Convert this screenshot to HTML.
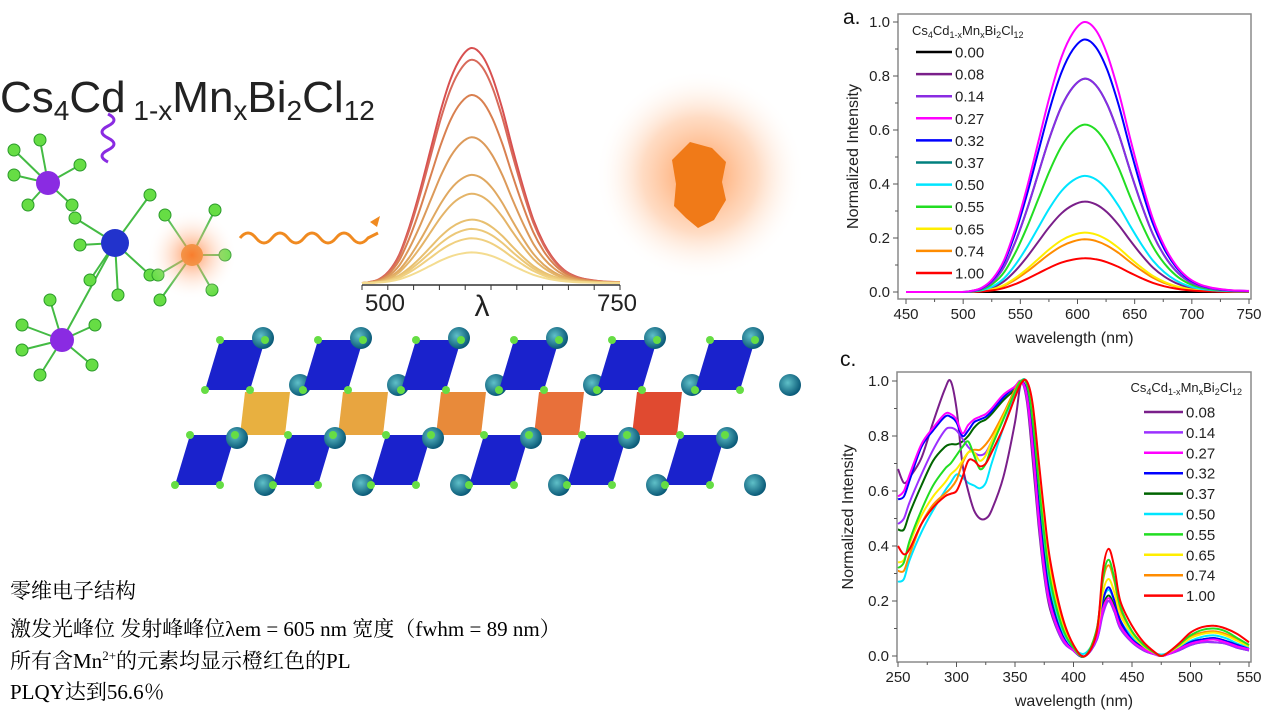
<!DOCTYPE html>
<html><head><meta charset="utf-8">
<style>
html,body{margin:0;padding:0;background:#fff;}
svg{display:block;font-family:"Liberation Sans",sans-serif;}
.cn{font-family:"Liberation Serif","Noto Serif CJK SC",serif;font-size:21px;fill:#000;}
</style></head>
<body>
<svg id="root" width="1270" height="713" viewBox="0 0 1270 713" xmlns="http://www.w3.org/2000/svg">
<defs>
<radialGradient id="glow" cx="50%" cy="50%" r="50%">
<stop offset="0" stop-color="#ff7a20" stop-opacity="0.75"/>
<stop offset="0.55" stop-color="#ff9a55" stop-opacity="0.35"/>
<stop offset="1" stop-color="#ffffff" stop-opacity="0"/>
</radialGradient>
<radialGradient id="glow2" cx="50%" cy="50%" r="50%">
<stop offset="0" stop-color="#ff7a30" stop-opacity="0.8"/>
<stop offset="1" stop-color="#ffffff" stop-opacity="0"/>
</radialGradient>
<radialGradient id="ball" cx="40%" cy="40%" r="60%">
<stop offset="0" stop-color="#5fc0c8"/><stop offset="1" stop-color="#0a5a78"/>
</radialGradient>
</defs>

<!-- Left graphic -->
<g>
<text x="0" y="112" font-size="44" fill="#222">Cs<tspan font-size="28" dy="8">4</tspan><tspan dy="-8">Cd</tspan><tspan font-size="28" dy="8"> 1-x</tspan><tspan dy="-8">Mn</tspan><tspan font-size="28" dy="8">x</tspan><tspan dy="-8">Bi</tspan><tspan font-size="28" dy="8">2</tspan><tspan dy="-8">Cl</tspan><tspan font-size="28" dy="8">12</tspan></text>
</g>
<g id="molecule"></g>
<circle cx="192" cy="255" r="45" fill="url(#glow2)"/>
<path d="M240 238 q8 -10 16 0 t16 0 t16 0 t16 0 t16 0 t16 0 t16 0 t16 0 l10 -5" fill="none" stroke="#f08a20" stroke-width="3"/>
<path d="M370 222 l10 -6 l-3 11" fill="#f08a20"/>
<path d="M108 162 q-12 -6 0 -12 q12 -6 0 -12 q-12 -6 0 -12 q12 -6 0 -12" fill="none" stroke="#8a2be2" stroke-width="3"/>
<g id="mini"></g>
<circle cx="700" cy="175" r="105" fill="url(#glow)"/>
<path d="M672 160 l18 -18 l22 6 l14 14 l-4 20 l4 18 l-12 20 l-16 8 l-12 -10 l-12 -12 l2 -22 z" fill="#f07a18"/>
<g id="crystal"></g>

<g>
<text class="cn" x="10" y="598">零维电子结构</text>
<text class="cn" x="10" y="636">激发光峰位 发射峰峰位λem = 605 nm  宽度（fwhm = 89 nm）</text>
<text class="cn" x="10" y="668">所有含Mn<tspan font-size="13" dy="-8">2+</tspan><tspan dy="8">的元素均显示橙红色的PL</tspan></text>
<text class="cn" x="10" y="699">PLQY达到56.6％</text>
</g>

<g id="chartA"></g>
<g id="chartC"></g>
</svg>
<script>
// ---------- Chart a data ----------
const aWavelengths=[450,496,506,516,526,536,546,556,566,576,586,596,606,616,626,636,646,656,666,676,686,696,706,716,726,736,750];
const aProfile=[0,0,0.003,0.015,0.05,0.12,0.24,0.39,0.56,0.73,0.87,0.96,1.0,0.97,0.88,0.74,0.57,0.41,0.27,0.17,0.1,0.055,0.03,0.017,0.01,0.006,0.004];
const aLabels=["0.00","0.08","0.14","0.27","0.32","0.37","0.50","0.55","0.65","0.74","1.00"];
const aPeaks=[0,0.335,0.79,1.0,0.935,0.79,0.43,0.62,0.22,0.195,0.125];
const aColors=["#000000","#7a1f8a","#8a2be2","#ff00ff","#0000ff","#00807f","#00e5ff","#22dd22","#ffee00","#ff8c00","#ff0000"];
const aXTicks=[450,500,550,600,650,700,750];
const aYTicks=[0,0.2,0.4,0.6,0.8,1.0];

// ---------- Chart c data ----------
const cWavelengths=[250,255,260,270,280,290,295,300,305,310,315,320,325,330,340,350,355,360,365,370,375,380,390,400,410,420,425,430,435,440,450,460,470,475,480,490,500,510,520,530,540,550];
const cLabels=["0.08","0.14","0.27","0.32","0.37","0.50","0.55","0.65","0.74","1.00"];
const cColors=["#7a1f8a","#9b30ff","#ff00ff","#0000ff","#006400","#00e5ff","#22dd22","#ffee00","#ff8c00","#ff0000"];
const c008=[0.68,0.63,0.65,0.72,0.85,0.97,1.0,0.9,0.7,0.6,0.53,0.5,0.5,0.53,0.65,0.85,0.99,0.93,0.72,0.48,0.29,0.17,0.06,0.02,0.0,0.06,0.16,0.20,0.16,0.10,0.05,0.02,0.005,0,0.005,0.02,0.04,0.05,0.05,0.045,0.03,0.02];
const c014=[0.48,0.5,0.56,0.66,0.75,0.82,0.83,0.82,0.79,0.76,0.74,0.73,0.74,0.78,0.87,0.96,1.0,0.94,0.75,0.5,0.3,0.18,0.06,0.02,0.0,0.06,0.15,0.20,0.16,0.1,0.05,0.02,0.005,0,0.005,0.02,0.04,0.05,0.05,0.045,0.03,0.02];
const c027=[0.58,0.6,0.66,0.77,0.83,0.88,0.88,0.86,0.81,0.84,0.86,0.87,0.88,0.9,0.95,0.98,1.0,0.95,0.77,0.52,0.32,0.19,0.07,0.02,0.0,0.07,0.17,0.21,0.17,0.11,0.055,0.025,0.005,0,0.005,0.025,0.045,0.055,0.06,0.05,0.035,0.025];
const c032=[0.57,0.58,0.64,0.76,0.82,0.87,0.87,0.85,0.8,0.82,0.85,0.86,0.87,0.89,0.94,0.98,1.0,0.96,0.79,0.55,0.35,0.21,0.08,0.02,0.0,0.08,0.2,0.25,0.2,0.13,0.06,0.03,0.007,0,0.007,0.025,0.05,0.06,0.065,0.055,0.04,0.025];
const c037=[0.46,0.46,0.52,0.62,0.71,0.76,0.77,0.77,0.78,0.8,0.83,0.85,0.86,0.88,0.93,0.97,1.0,0.96,0.8,0.56,0.36,0.22,0.08,0.02,0.0,0.08,0.18,0.22,0.18,0.12,0.06,0.03,0.007,0,0.007,0.025,0.05,0.06,0.065,0.055,0.04,0.025];
const c050=[0.27,0.28,0.35,0.45,0.53,0.6,0.63,0.66,0.65,0.63,0.62,0.61,0.63,0.7,0.83,0.95,1.0,0.99,0.84,0.6,0.4,0.25,0.1,0.03,0.01,0.08,0.2,0.24,0.2,0.13,0.07,0.03,0.01,0.005,0.01,0.03,0.055,0.07,0.075,0.065,0.045,0.03];
const c055=[0.32,0.34,0.42,0.53,0.62,0.68,0.7,0.73,0.76,0.78,0.73,0.68,0.7,0.76,0.86,0.96,1.0,0.99,0.86,0.64,0.44,0.28,0.11,0.03,0.0,0.1,0.28,0.35,0.28,0.18,0.09,0.04,0.01,0,0.01,0.04,0.075,0.095,0.1,0.09,0.065,0.04];
const c065=[0.34,0.35,0.41,0.51,0.58,0.63,0.66,0.68,0.71,0.74,0.74,0.71,0.73,0.78,0.87,0.96,1.0,0.99,0.87,0.66,0.46,0.3,0.12,0.03,0.0,0.09,0.23,0.28,0.23,0.15,0.08,0.035,0.01,0,0.01,0.035,0.065,0.08,0.085,0.075,0.055,0.035];
const c074=[0.31,0.31,0.37,0.48,0.55,0.59,0.61,0.64,0.7,0.74,0.75,0.75,0.77,0.8,0.88,0.97,1.0,0.99,0.89,0.68,0.48,0.32,0.13,0.035,0.0,0.1,0.27,0.33,0.27,0.17,0.09,0.04,0.01,0,0.01,0.04,0.07,0.085,0.09,0.08,0.06,0.04];
const c100=[0.4,0.37,0.39,0.48,0.54,0.58,0.59,0.6,0.65,0.71,0.71,0.69,0.7,0.74,0.83,0.94,0.99,1.0,0.92,0.72,0.52,0.35,0.15,0.04,0.0,0.09,0.31,0.39,0.32,0.2,0.11,0.05,0.012,0,0.01,0.045,0.085,0.105,0.11,0.1,0.08,0.05];
const cSeries=[c008,c014,c027,c032,c037,c050,c055,c065,c074,c100];
const cXTicks=[250,300,350,400,450,500,550];
const cYTicks=[0,0.2,0.4,0.6,0.8,1.0];

// ---------- Mini chart data ----------
const miniPeaks=[1.0,0.95,0.8,0.62,0.46,0.38,0.27,0.23,0.19,0.13];
const miniColors=["#d85050","#d86a5a","#d98050","#dc9a5a","#e0a860","#e4b468","#e8c070","#ecc878","#f0d080","#f4dc90"];

const NS="http://www.w3.org/2000/svg";
function mk(tag,attrs,parent){const e=document.createElementNS(NS,tag);for(const k in attrs)e.setAttribute(k,attrs[k]);if(parent)parent.appendChild(e);return e;}
function smooth(pts){let d="M"+pts[0][0].toFixed(1)+","+pts[0][1].toFixed(1);for(let i=0;i<pts.length-1;i++){const p0=pts[i-1]||pts[i],p1=pts[i],p2=pts[i+1],p3=pts[i+2]||p2;const c1=[p1[0]+(p2[0]-p0[0])/6,p1[1]+(p2[1]-p0[1])/6],c2=[p2[0]-(p3[0]-p1[0])/6,p2[1]-(p3[1]-p1[1])/6];d+="C"+c1[0].toFixed(1)+","+c1[1].toFixed(1)+" "+c2[0].toFixed(1)+","+c2[1].toFixed(1)+" "+p2[0].toFixed(1)+","+p2[1].toFixed(1);}return d;}

function axes(g,o){
  const xS=v=>o.x0+(v-o.xmin)/(o.xmax-o.xmin)*(o.x1-o.x0);
  const yS=v=>o.y0-(v-0)/(1)*(o.y0-o.y1);
  let r=mk("rect",{x:o.fx0,y:o.fy0,width:o.fx1-o.fx0,height:o.fy1-o.fy0,fill:"none",stroke:"#8a8a8a","stroke-width":1.5},g);
  
  
  o.xt.forEach((v,i)=>{const x=xS(v);
    mk("line",{x1:x,x2:x,y1:o.fy1,y2:o.fy1+5,stroke:"#555"},g);
    if(i<o.xt.length-1){const xm=xS(v+(o.xt[1]-o.xt[0])/2);mk("line",{x1:xm,x2:xm,y1:o.fy1,y2:o.fy1+3,stroke:"#555"},g);}
    const t=mk("text",{x:x,y:o.fy1+20,"font-size":15,"text-anchor":"middle",fill:"#222"},g);t.textContent=v;
    
    });
  o.yt.forEach((v,i)=>{const y=yS(v);
    mk("line",{x1:o.fx0-5,x2:o.fx0,y1:y,y2:y,stroke:"#555"},g);
    if(i<o.yt.length-1){const ym=yS(v+0.1);mk("line",{x1:o.fx0-3,x2:o.fx0,y1:ym,y2:ym,stroke:"#555"},g);}
    const t=mk("text",{x:o.fx0-8,y:y+5,"font-size":15,"text-anchor":"end",fill:"#222"},g);t.textContent=v.toFixed(1);
    
    });
  const xt=mk("text",{x:(o.fx0+o.fx1)/2,y:o.fy1+44,"font-size":16,"text-anchor":"middle",fill:"#222"},g);xt.textContent="wavelength (nm)";
  
  
  const yt=mk("text",{x:0,y:0,"font-size":16,"text-anchor":"middle",fill:"#222",transform:`translate(${o.ylx},${(o.fy0+o.fy1)/2}) rotate(-90)`},g);yt.textContent="Normalized Intensity";
  
  
  return [xS,yS];
}
function legendTitle(g,x,y,anchor){
  const t=mk("text",{x:x,y:y,"font-size":13,fill:"#222","text-anchor":anchor||"start"},g);
  t.innerHTML='Cs<tspan font-size="9" dy="3">4</tspan><tspan dy="-3">Cd</tspan><tspan font-size="9" dy="3">1-x</tspan><tspan dy="-3">Mn</tspan><tspan font-size="9" dy="3">x</tspan><tspan dy="-3">Bi</tspan><tspan font-size="9" dy="3">2</tspan><tspan dy="-3">Cl</tspan><tspan font-size="9" dy="3">12</tspan>';
  
  
}

// Chart a
(function(){
  const g=document.getElementById("chartA");
  const o={x0:906,x1:1249,xmin:450,xmax:750,y0:292,y1:22,fx0:898,fx1:1251,fy0:14,fy1:299,xt:aXTicks,yt:aYTicks,ylx:858};
  const [xS,yS]=axes(g,o);
  const lab=mk("text",{x:843,y:24,"font-size":21,fill:"#111"},g);lab.textContent="a.";
  
  
  const order=[0,1,9,8,10,6,7,5,2,4,3];
  order.forEach(i=>{
    const pts=aWavelengths.map((w,j)=>[xS(w),yS(aPeaks[i]*aProfile[j])]);
    const p=mk("path",{d:smooth(pts),fill:"none",stroke:aColors[i],"stroke-width":2},g);
    
    
  });
  legendTitle(g,912,35);
  aLabels.forEach((l,i)=>{const y=52+i*22.1;
    const ln=mk("line",{x1:916,x2:952,y1:y,y2:y,stroke:aColors[i],"stroke-width":2.5},g);
    
    
    const t=mk("text",{x:955,y:y+5.5,"font-size":15,fill:"#222"},g);t.textContent=l;
    
    });
})();

// Chart c
(function(){
  const g=document.getElementById("chartC");
  const o={x0:898,x1:1249,xmin:250,xmax:550,y0:656,y1:381,fx0:897,fx1:1251,fy0:372,fy1:662,xt:cXTicks,yt:cYTicks,ylx:853};
  const [xS,yS]=axes(g,o);
  const lab=mk("text",{x:840,y:366,"font-size":21,fill:"#111"},g);lab.textContent="c.";
  
  
  const order=[5,4,0,1,3,2,8,7,6,9];
  order.forEach(i=>{
    const pts=cWavelengths.map((w,j)=>[xS(w),yS(cSeries[i][j])]);
    const p=mk("path",{d:smooth(pts),fill:"none",stroke:cColors[i],"stroke-width":2},g);
    
    
  });
  legendTitle(g,1242,392,"end");
  cLabels.forEach((l,i)=>{const y=412+i*20.4;
    const ln=mk("line",{x1:1144,x2:1183,y1:y,y2:y,stroke:cColors[i],"stroke-width":2.5},g);
    
    
    const t=mk("text",{x:1186,y:y+5.5,"font-size":15,fill:"#222"},g);t.textContent=l;
    
    });
})();

// Mini chart
(function(){
  const g=document.getElementById("mini");
  const xS=v=>362+(v-500)/250*258, yS=v=>283-v*235;
  miniPeaks.forEach((a,i)=>{
    const pts=aWavelengths.filter(w=>w>=496).map(w=>{const j=aWavelengths.indexOf(w);return [xS(Math.max(500,w)),yS(a*aProfile[j])];});
    const p=mk("path",{d:smooth(pts),fill:"none",stroke:miniColors[i],"stroke-width":2},g);
    
    
  });
  mk("line",{x1:362,x2:620,y1:285,y2:285,stroke:"#333","stroke-width":1.5},g);
  for(let v=500;v<=750;v+=25){mk("line",{x1:xS(v),x2:xS(v),y1:285,y2:290,stroke:"#333"},g);}
  [["500",385],["λ",482],["750",617]].forEach(([s,x])=>{const t=mk("text",{x:x,y:s==="λ"?316:311,"font-size":s==="λ"?30:24,"text-anchor":"middle",fill:"#222"},g);t.textContent=s;
    
    });
})();

// Molecule
(function(){
  const g=document.getElementById("molecule");
  const centers=[[48,183,"#8a2be2",12],[115,243,"#2233cc",14],[192,255,"#e08a20",11],[62,340,"#8a2be2",12]];
  const ligands=[[[14,150],[40,140],[14,175],[80,165],[72,205],[28,205]],[[75,218],[80,245],[150,195],[150,275],[90,280],[118,295]],[[165,215],[215,210],[225,255],[160,300],[212,290],[158,275]],[[22,325],[50,300],[22,350],[95,325],[92,365],[40,375]]];
  mk("line",{x1:115,y1:243,x2:62,y2:340,stroke:"#44bb44","stroke-width":2},g);
  centers.forEach((c,i)=>{ligands[i].forEach(l=>{mk("line",{x1:c[0],y1:c[1],x2:l[0],y2:l[1],stroke:"#44bb44","stroke-width":2},g);});});
  centers.forEach((c,i)=>{ligands[i].forEach(l=>{mk("circle",{cx:l[0],cy:l[1],r:6,fill:"#66dd44",stroke:"#2a9a2a"},g);});
    mk("circle",{cx:c[0],cy:c[1],r:c[3],fill:c[2]},g);});
})();

// Crystal
(function(){
  const g=document.getElementById("crystal");
  const mid=["#e8b040","#e8a540","#e88a3a","#e8703a","#e04a30"];
  mid.forEach((c,i)=>{const x=245+i*98;mk("polygon",{points:`${x},392 ${x+45},392 ${x+40},435 ${x-5},435`,fill:c},g);});
  for(let i=0;i<6;i++){
    const x=205+i*98;
    mk("polygon",{points:`${x+15},340 ${x+60},340 ${x+45},390 ${x},390`,fill:"#1a22cc"},g);
    const x2=175+i*98;
    mk("polygon",{points:`${x2+15},435 ${x2+60},435 ${x2+45},485 ${x2},485`,fill:"#1a22cc"},g);
    mk("circle",{cx:x+58,cy:338,r:11,fill:"url(#ball)"},g);
    mk("circle",{cx:x+95,cy:385,r:11,fill:"url(#ball)"},g);
    mk("circle",{cx:x2+62,cy:438,r:11,fill:"url(#ball)"},g);
    mk("circle",{cx:x2+90,cy:485,r:11,fill:"url(#ball)"},g);
    [[x+15,340],[x+60,340],[x,390],[x+45,390],[x2+15,435],[x2+60,435],[x2,485],[x2+45,485]].forEach(p=>mk("circle",{cx:p[0],cy:p[1],r:4,fill:"#66dd44"},g));
  }
})();
</script>
</body></html>
